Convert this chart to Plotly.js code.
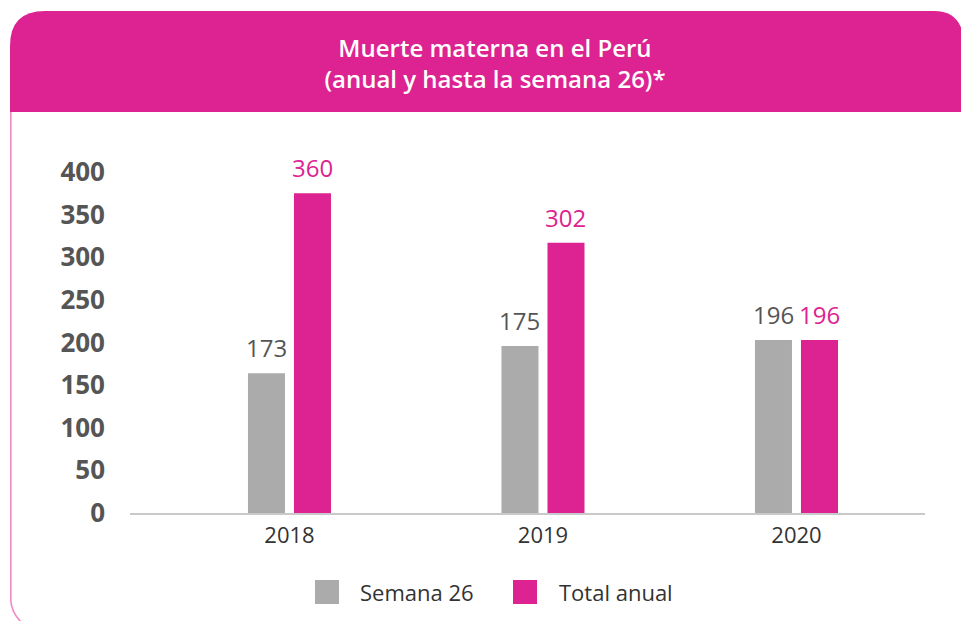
<!DOCTYPE html>
<html>
<head>
<meta charset="utf-8">
<script src="https://cdn.plot.ly/plotly-3.0.1.min.js"></script>
<style>
  html, body { margin: 0; padding: 0; background: #ffffff; }
  #chart { width: 961px; height: 621px; }
</style>
</head>
<body>
<div id="chart"></div>
<script>
// ---- data ----
var years = ['2018', '2019', '2020'];
var seriesNames = ['Semana 26', 'Total anual'];
// bar heights as drawn in the picture
var semana26 = [164, 196, 203];
var totalAnual = [375, 317, 203];
// printed value labels above the bars
var semana26Labels = ['173', '175', '196'];
var totalAnualLabels = ['360', '302', '196'];
var yTickVals = [0, 50, 100, 150, 200, 250, 300, 350, 400];

// ---- styling ----
var GRAY = '#ababab';
var PINK = '#dc2391';
var FONT = 'Open Sans, Noto Sans, sans-serif';

var W = 961, H = 621;
var M = {l: 130, r: 36, t: 150, b: 108};
var PW = W - M.l - M.r, PH = H - M.t - M.b;
function px(x) { return (x - M.l) / PW; }
function py(y) { return (H - M.b - y) / PH; }
function pt(x, y) { return px(x).toFixed(5) + ',' + py(y).toFixed(5); }

var headerPath = 'M' + pt(10, 112) + ' L' + pt(10, 46) + ' Q' + pt(10, 11) + ' ' + pt(45, 11) +
  ' L' + pt(934, 11) + ' Q' + pt(961, 11) + ' ' + pt(964, 40) + ' L' + pt(964, 112) + ' Z';
var borderPath = 'M' + pt(10.8, 112) + ' L' + pt(10.8, 600) + ' Q' + pt(11, 612) + ' ' + pt(22, 623);

var barW = 0.146;
var traces = [
  {type: 'bar', name: seriesNames[0], x: years, y: semana26, marker: {color: GRAY},
   width: barW, offset: -0.1637, showlegend: false, hoverinfo: 'x+y'},
  {type: 'bar', name: seriesNames[1], x: years, y: totalAnual, marker: {color: PINK},
   width: barW, offset: 0.0178, showlegend: false, hoverinfo: 'x+y'}
];

var annotations = [];
years.forEach(function (yr, i) {
  annotations.push({x: i, y: semana26[i], xref: 'x', yref: 'y', text: semana26Labels[i],
    showarrow: false, xshift: -23, yshift: 7, yanchor: 'bottom', xanchor: 'center',
    font: {family: FONT, size: 24, color: '#555555'}});
  annotations.push({x: i, y: totalAnual[i], xref: 'x', yref: 'y', text: totalAnualLabels[i],
    showarrow: false, xshift: 23, yshift: 7, yanchor: 'bottom', xanchor: 'center',
    font: {family: FONT, size: 24, color: PINK}});
});

// custom legend (large square swatches)
var legendItems = [
  {name: seriesNames[0], color: GRAY, sx: 315, tx: 358},
  {name: seriesNames[1], color: PINK, sx: 513, tx: 557}
];
var shapes = [
  {type: 'path', xref: 'paper', yref: 'paper', path: headerPath, fillcolor: PINK,
   line: {width: 0}, layer: 'below'},
  {type: 'path', xref: 'paper', yref: 'paper', path: borderPath,
   line: {color: '#ef8ac6', width: 1.6}, layer: 'below'}
];
legendItems.forEach(function (it) {
  shapes.push({type: 'rect', xref: 'paper', yref: 'paper',
    x0: px(it.sx), x1: px(it.sx + 24), y0: py(604), y1: py(580),
    fillcolor: it.color, line: {width: 0}});
  annotations.push({xref: 'paper', yref: 'paper', x: px(it.tx), y: py(592),
    xanchor: 'left', yanchor: 'middle', showarrow: false, text: it.name,
    font: {family: FONT, size: 22, color: '#333333'}});
});

var layout = {
  width: W, height: H,
  margin: M,
  paper_bgcolor: '#ffffff', plot_bgcolor: 'rgba(0,0,0,0)',
  barmode: 'overlay',
  showlegend: false,
  title: {
    text: 'Muerte materna en el Perú<br>(anual y hasta la semana 26)*',
    font: {family: FONT, size: 24, color: '#ffffff', weight: 600},
    xref: 'container', x: 495 / W, xanchor: 'center',
    yref: 'container', y: 1 - 57 / H, yanchor: 'middle'
  },
  xaxis: {
    type: 'category', categoryorder: 'array', categoryarray: years,
    range: [-0.629, 2.507], showline: true, linecolor: '#c9c9c9', linewidth: 1.5,
    showgrid: false, zeroline: false, ticks: '',
    tickfont: {family: FONT, size: 22, color: '#333333'}, ticklabelstandoff: 2
  },
  yaxis: {
    range: [0, 425.8], tickvals: yTickVals, showgrid: false, zeroline: false,
    showline: false, ticks: '', ticklabelstandoff: 24,
    tickfont: {family: FONT, size: 26, color: '#555555', weight: 700}
  },
  shapes: shapes,
  annotations: annotations
};

Plotly.newPlot('chart', traces, layout, {displayModeBar: false, staticPlot: true});
</script>
</body>
</html>
